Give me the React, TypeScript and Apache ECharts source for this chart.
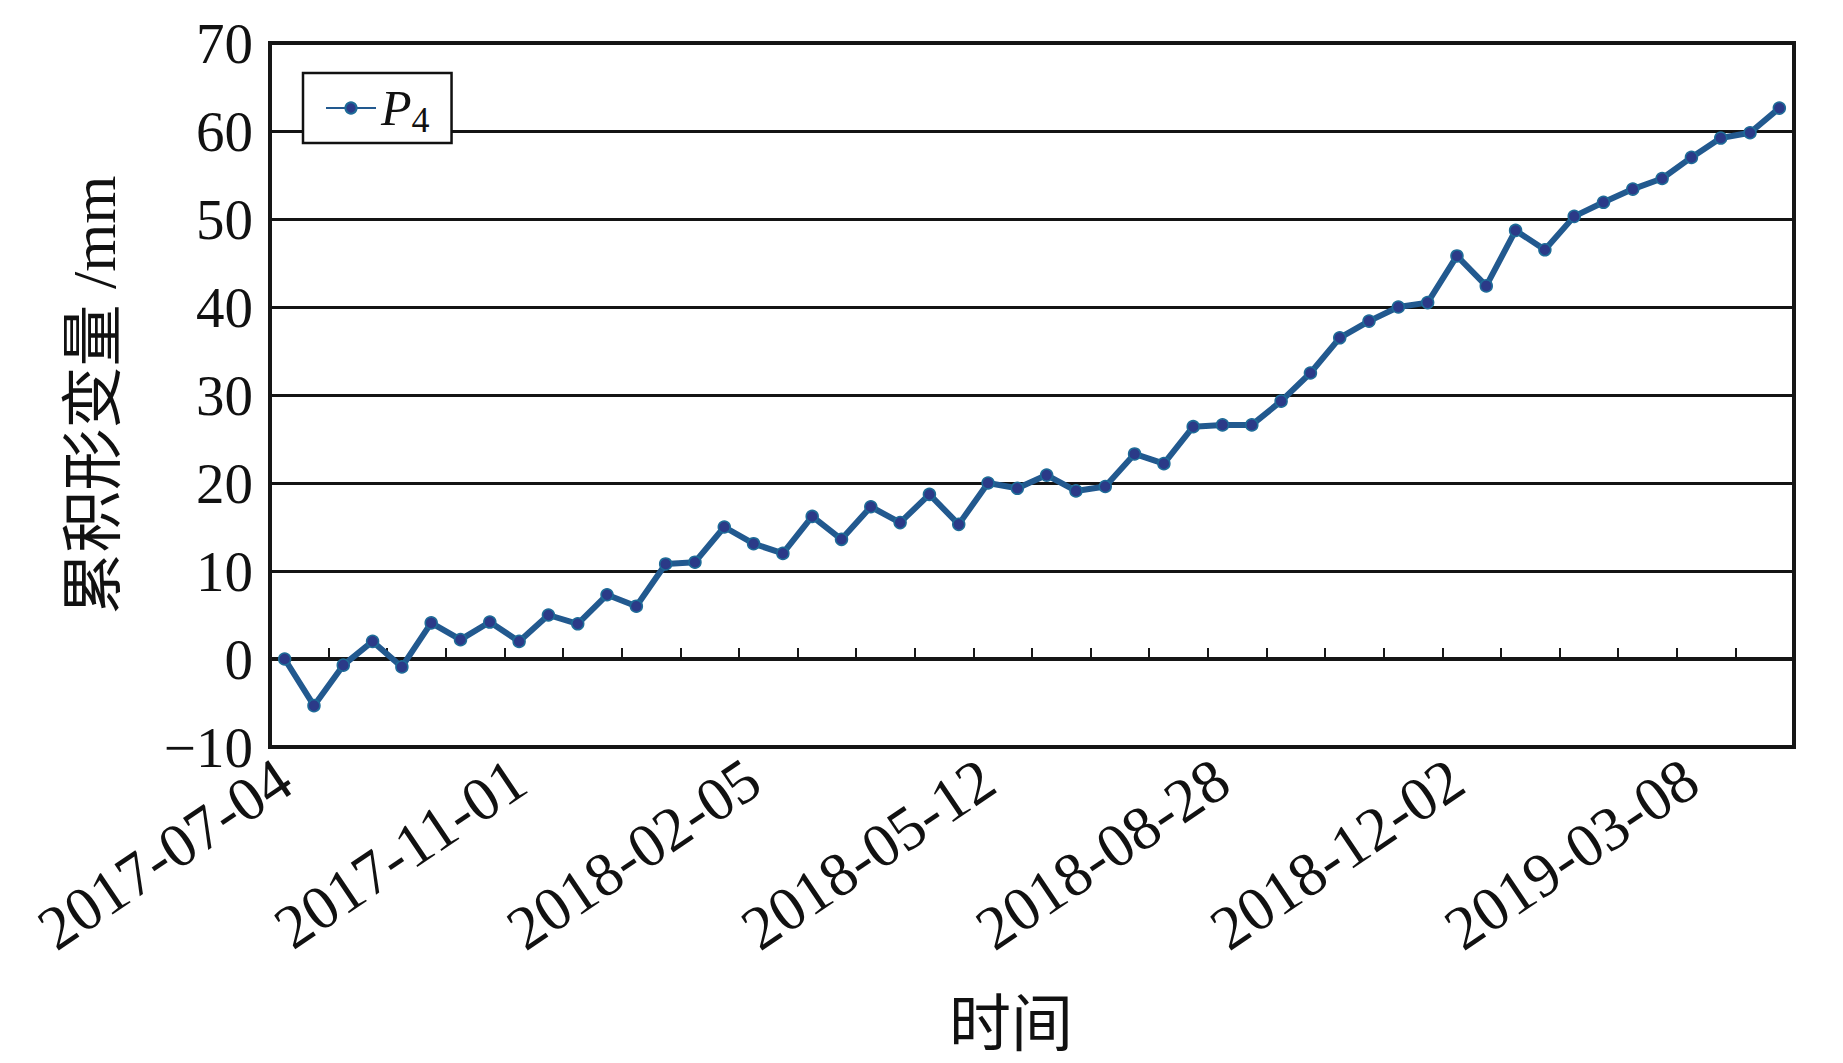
import React, { useEffect, useRef } from "react";
import * as echarts from "echarts";

// Acquisition dates (category axis)
const dates: string[] = [
  "2017-07-04", "2017-07-16", "2017-07-28", "2017-08-09", "2017-08-21", "2017-09-14",
  "2017-09-26", "2017-10-20", "2017-11-01", "2017-11-13", "2017-11-25", "2017-12-07",
  "2017-12-19", "2017-12-31", "2018-01-12", "2018-01-24", "2018-02-05", "2018-02-17",
  "2018-03-01", "2018-03-13", "2018-03-25", "2018-04-06", "2018-04-18", "2018-04-30",
  "2018-05-12", "2018-05-24", "2018-06-05", "2018-06-17", "2018-06-29", "2018-07-23",
  "2018-08-04", "2018-08-16", "2018-08-28", "2018-09-09", "2018-09-21", "2018-10-03",
  "2018-10-15", "2018-10-27", "2018-11-08", "2018-11-20", "2018-12-02", "2018-12-14",
  "2018-12-26", "2019-01-07", "2019-01-19", "2019-01-31", "2019-02-12", "2019-02-24",
  "2019-03-08", "2019-03-20", "2019-04-01", "2019-04-13",
];

// Cumulative deformation of P4 (mm)
const p4Values: number[] = [
  0, -5.3, -0.7, 2.0, -0.9, 4.1, 2.2, 4.2, 2.0, 5.0, 4.0, 7.3, 6.0, 10.8, 11.0, 15.0,
  13.1, 12.0, 16.2, 13.6, 17.3, 15.5, 18.7, 15.3, 20.0, 19.4, 20.9, 19.1, 19.6, 23.3,
  22.2, 26.4, 26.6, 26.6, 29.3, 32.5, 36.5, 38.4, 40.0, 40.5, 45.8, 42.4, 48.7, 46.5,
  50.3, 51.9, 53.4, 54.6, 57.0, 59.2, 59.8, 62.6,
];

const yMin = -10;
const yMax = 70;
const yStep = 10;

const seriesName = "P4";
const yTitle = "累积形变量 /mm";
const xTitle = "时间";

const SERIF = "Liberation Serif, Noto Sans CJK SC, serif";

export default function App() {
  const ref = useRef<HTMLDivElement>(null);

  useEffect(() => {
    if (!ref.current) return;
    const chart = echarts.init(ref.current, undefined, { renderer: "svg" });
    chart.setOption({
      animation: false,
      backgroundColor: "#ffffff",
      grid: {
        left: 270,
        top: 43,
        right: 49,
        bottom: 316,
        show: true,
        borderColor: "#161616",
        borderWidth: 4,
        backgroundColor: "transparent",
      },
      legend: {
        show: true,
        left: 303,
        top: 73,
        orient: "horizontal",
        backgroundColor: "#ffffff",
        borderColor: "#111111",
        borderWidth: 2.5,
        borderRadius: 0,
        padding: [5, 22, 5, 22],
        itemWidth: 50,
        itemHeight: 14,
        itemGap: 10,
        formatter: () => "{p|P}{s|4}",
        textStyle: {
          color: "#111",
          rich: {
            p: { fontFamily: SERIF, fontStyle: "italic", fontSize: 50, color: "#111", lineHeight: 52 },
            s: { fontFamily: SERIF, fontSize: 36, color: "#111", padding: [24, 0, 0, 0], lineHeight: 52 },
          },
        },
        data: [seriesName],
      },
      xAxis: {
        type: "category",
        data: dates,
        boundaryGap: true,
        axisLine: { show: true, lineStyle: { color: "#161616", width: 4 } },
        axisTick: {
          show: true,
          inside: true,
          interval: 1,
          length: 11,
          lineStyle: { color: "#161616", width: 2 },
        },
        axisLabel: {
          interval: 7,
          rotate: 34,
          margin: 26,
          fontFamily: SERIF,
          fontSize: 62,
          color: "#111",
        },
        splitLine: { show: false },
      },
      yAxis: {
        type: "value",
        min: yMin,
        max: yMax,
        interval: yStep,
        name: yTitle,
        nameLocation: "middle",
        nameGap: 145,
        nameRotate: 90,
        nameTextStyle: { fontFamily: SERIF, fontSize: 62, color: "#111" },
        axisLine: { show: true, lineStyle: { color: "#161616", width: 4 } },
        axisTick: { show: false },
        axisLabel: {
          fontFamily: SERIF,
          fontSize: 57,
          color: "#111",
          margin: 17,
          formatter: (v: number) => (v < 0 ? "\u2212" + Math.abs(v) : String(v)),
        },
        splitLine: { show: true, lineStyle: { color: "#141414", width: 3 } },
      },
      graphic: [
        {
          type: "text",
          left: 1011 - 62,
          top: 1028 - 34,
          style: {
            text: xTitle,
            fontFamily: SERIF,
            fontSize: 62,
            fill: "#111",
          },
        },
      ],
      series: [
        {
          name: seriesName,
          type: "line",
          data: p4Values,
          symbol: "circle",
          symbolSize: 12,
          showSymbol: true,
          lineStyle: { color: "#22598f", width: 6 },
          itemStyle: { color: "#2b3a88", borderColor: "#1e6c98", borderWidth: 1.5 },
          emphasis: { disabled: true },
        },
      ],
    });
    return () => chart.dispose();
  }, []);

  return (
    <div
      ref={ref}
      style={{ position: "absolute", left: 0, top: 0, width: 1843, height: 1063, background: "#fff" }}
    />
  );
}
